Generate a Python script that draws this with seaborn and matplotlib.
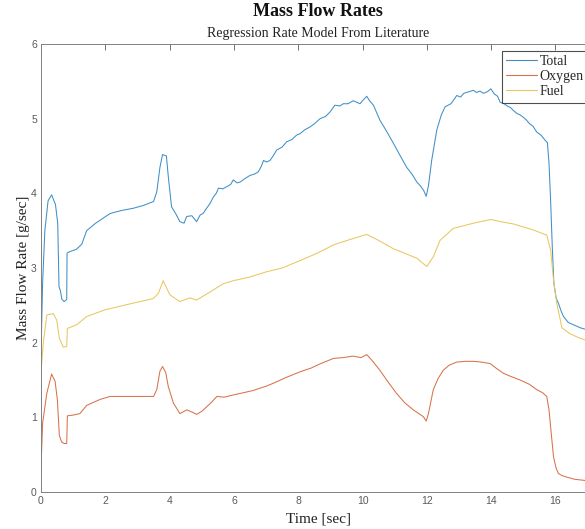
import matplotlib
matplotlib.use("Agg")
import matplotlib.pyplot as plt
import seaborn as sns
import pandas as pd

# ---- data ----
total_t = [0.0, 0.05, 0.12, 0.22, 0.33, 0.45, 0.52, 0.56, 0.6, 0.65, 0.72, 0.8, 0.81, 0.9,
           1.1, 1.27, 1.42, 1.7, 2.15, 2.5, 2.87, 3.2, 3.5, 3.6, 3.7, 3.78, 3.9, 3.96, 4.06,
           4.2, 4.32, 4.45, 4.53, 4.69, 4.84, 4.95, 5.04, 5.15, 5.25, 5.36, 5.45, 5.52, 5.65,
           5.78, 5.9, 5.98, 6.1, 6.19, 6.35, 6.5, 6.65, 6.76, 6.85, 6.92, 7.02, 7.12, 7.22,
           7.33, 7.5, 7.64, 7.8, 7.95, 8.06, 8.2, 8.37, 8.5, 8.68, 8.85, 8.99, 9.14, 9.3, 9.4,
           9.55, 9.71, 9.82, 9.92, 10.02, 10.13, 10.22, 10.34, 10.54, 10.75, 10.96, 11.15,
           11.37, 11.55, 11.69, 11.8, 11.9, 11.98, 12.05, 12.15, 12.31, 12.45, 12.57, 12.75,
           12.93, 13.05, 13.15, 13.3, 13.45, 13.55, 13.65, 13.76, 13.88, 13.99, 14.1, 14.2,
           14.28, 14.4, 14.5, 14.6, 14.69, 14.8, 14.9, 15.0, 15.1, 15.2, 15.3, 15.42, 15.55,
           15.68, 15.75, 15.8, 15.85, 15.9, 15.95, 16.02, 16.09, 16.18, 16.25, 16.4, 16.56,
           16.77, 17.23]
total_v = [1.85, 2.8, 3.5, 3.9, 3.98, 3.85, 3.6, 2.75, 2.7, 2.58, 2.55, 2.58, 3.2, 3.22,
           3.25, 3.32, 3.5, 3.6, 3.73, 3.77, 3.8, 3.84, 3.89, 4.02, 4.35, 4.52, 4.5, 4.22, 3.82,
           3.72, 3.62, 3.6, 3.69, 3.7, 3.62, 3.71, 3.73, 3.8, 3.86, 3.95, 4.0, 4.07, 4.06,
           4.09, 4.12, 4.18, 4.14, 4.15, 4.2, 4.24, 4.26, 4.29, 4.36, 4.44, 4.42, 4.44, 4.5,
           4.58, 4.62, 4.69, 4.72, 4.78, 4.8, 4.85, 4.89, 4.93, 5.0, 5.03, 5.09, 5.18, 5.17, 5.2,
           5.2, 5.24, 5.22, 5.2, 5.25, 5.3, 5.24, 5.18, 4.98, 4.83, 4.67, 4.52, 4.35, 4.25,
           4.15, 4.1, 4.04, 3.96, 4.1, 4.44, 4.85, 5.05, 5.16, 5.2, 5.31, 5.29, 5.34, 5.36,
           5.38, 5.35, 5.37, 5.34, 5.36, 5.4, 5.33, 5.3, 5.22, 5.2, 5.17, 5.15, 5.11, 5.07,
           5.05, 5.02, 4.98, 4.93, 4.9, 4.82, 4.78, 4.71, 4.68, 4.4, 3.9, 3.3, 2.8, 2.6, 2.53,
           2.42, 2.35, 2.27, 2.24, 2.2, 2.14]

oxygen_t = [0.0, 0.05, 0.18, 0.33, 0.44, 0.51, 0.57, 0.64, 0.72, 0.8, 0.82, 1.0, 1.21, 1.42,
            1.84, 2.15, 2.8, 3.5, 3.6, 3.7, 3.78, 3.88, 3.96, 4.12, 4.32, 4.45, 4.53, 4.7,
            4.84, 5.0, 5.15, 5.3, 5.47, 5.7, 5.98, 6.3, 6.6, 7.02, 7.3, 7.6, 8.06, 8.4, 8.7,
            9.1, 9.4, 9.7, 9.95, 10.13, 10.3, 10.54, 10.8, 11.06, 11.3, 11.58, 11.75, 11.89,
            11.98, 12.05, 12.2, 12.35, 12.51, 12.7, 12.93, 13.2, 13.45, 13.7, 13.97, 14.15,
            14.38, 14.6, 14.9, 15.2, 15.42, 15.6, 15.73, 15.8, 15.85, 15.94, 16.02, 16.09,
            16.2, 16.35, 16.6, 17.23]
oxygen_v = [0.32, 0.92, 1.32, 1.58, 1.48, 1.23, 0.76, 0.67, 0.65, 0.65, 1.02, 1.03, 1.05, 1.16,
            1.24, 1.28, 1.28, 1.28, 1.37, 1.62, 1.68, 1.6, 1.41, 1.19, 1.05, 1.08, 1.1, 1.07,
            1.04, 1.08, 1.14, 1.2, 1.28, 1.27, 1.3, 1.33, 1.36, 1.42, 1.47, 1.53, 1.61, 1.66,
            1.72, 1.79, 1.8, 1.82, 1.8, 1.84, 1.76, 1.63, 1.47, 1.32, 1.2, 1.1, 1.05, 1.01,
            0.95, 1.05, 1.37, 1.52, 1.63, 1.7, 1.74, 1.75, 1.75, 1.74, 1.72, 1.66, 1.59, 1.55,
            1.5, 1.44, 1.37, 1.33, 1.28, 1.1, 0.87, 0.47, 0.32, 0.25, 0.22, 0.2, 0.17, 0.14]

fuel_t = [0.0, 0.07, 0.18, 0.38, 0.49, 0.57, 0.69, 0.8, 0.82, 1.11, 1.42, 1.99, 2.87, 3.49,
          3.65, 3.8, 3.92, 4.01, 4.32, 4.63, 4.84, 5.26, 5.67, 5.98, 6.5, 7.02, 7.5, 8.06,
          8.6, 9.1, 9.6, 10.13, 10.5, 10.95, 11.3, 11.69, 11.94, 12.0, 12.2, 12.41, 12.82,
          13.45, 13.99, 14.3, 14.69, 15.31, 15.73, 15.85, 15.94, 16.04, 16.2, 16.45, 16.7,
          17.23]
fuel_v = [1.6, 1.99, 2.37, 2.39, 2.3, 2.06, 1.94, 1.95, 2.19, 2.24, 2.35, 2.44, 2.53, 2.59,
          2.66, 2.83, 2.72, 2.64, 2.55, 2.6, 2.57, 2.68, 2.79, 2.83, 2.88, 2.95, 3.0, 3.1,
          3.2, 3.31, 3.38, 3.45, 3.37, 3.26, 3.2, 3.13, 3.04, 3.02, 3.15, 3.37, 3.53, 3.6,
          3.65, 3.62, 3.59, 3.51, 3.44, 3.24, 2.84, 2.53, 2.2, 2.12, 2.07, 1.99]

series_names = ["Total", "Oxygen", "Fuel"]
x_ticks = [0, 2, 4, 6, 8, 10, 12, 14, 16]
y_ticks = [0, 1, 2, 3, 4, 5, 6]

# ---- styling ----
sns.set_theme(style="white")
serif = ["Liberation Serif", "DejaVu Serif"]
plt.rcParams["font.family"] = ["Liberation Sans", "DejaVu Sans"]

colors = {"Total": "#3f8fc6", "Oxygen": "#d8724a", "Fuel": "#e8c760"}

df = pd.concat([
    pd.DataFrame({"t": total_t, "v": total_v, "s": "Total"}),
    pd.DataFrame({"t": oxygen_t, "v": oxygen_v, "s": "Oxygen"}),
    pd.DataFrame({"t": fuel_t, "v": fuel_v, "s": "Fuel"}),
])

fig = plt.figure(figsize=(5.85, 5.29), dpi=100)
ax = fig.add_axes([41 / 585, 1 - 492 / 529, 554 / 585, 448 / 529])

sns.lineplot(data=df, x="t", y="v", hue="s", hue_order=series_names,
             palette=colors, linewidth=0.75, sort=False, estimator=None, ax=ax)

ax.set_xlim(0, 17.23)
ax.set_ylim(0, 6)
ax.set_xticks(x_ticks)
ax.set_yticks(y_ticks)
ax.tick_params(axis="both", direction="in", length=4, width=0.6, colors="#5a5a5a",
               labelsize=7.5, top=True, right=True, pad=3)
for sp in ax.spines.values():
    sp.set_color("#808080")
    sp.set_linewidth(0.7)

ax.set_xlabel("Time [sec]", family=serif, fontsize=11, color="#222222", labelpad=4.5)
ax.set_ylabel("Mass Flow Rate [g/sec]", family=serif, fontsize=11, color="#222222", labelpad=0.5)

fig.text(318 / 585, 1 - 12 / 529, "Mass Flow Rates", family=serif, fontweight="bold",
         fontsize=13, ha="center", va="center", color="#111111")
fig.text(318 / 585, 1 - 34 / 529, "Regression Rate Model From Literature", family=serif,
         fontsize=10, ha="center", va="center", color="#222222")

leg = ax.legend(loc="upper right", bbox_to_anchor=(1 - 7 / 554, 1 - 7 / 448),
                borderaxespad=0, frameon=True, fancybox=False, prop={"family": serif, "size": 10},
                handlelength=2.2, handletextpad=0.2, labelspacing=0.15, borderpad=0.3)
leg.get_frame().set_edgecolor("#222222")
leg.get_frame().set_linewidth(0.8)
for line in leg.get_lines():
    line.set_linewidth(0.8)

fig.savefig("out.png", dpi=100)
